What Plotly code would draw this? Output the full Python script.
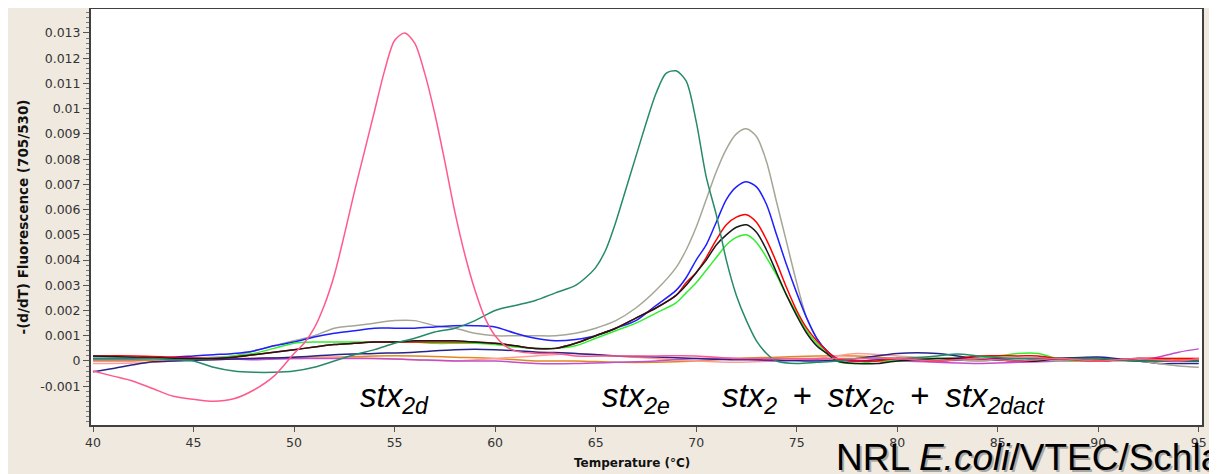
import plotly.graph_objects as go

# ---------------- data ----------------
T_PINK = [40, 41, 42, 43, 44, 45, 46, 47, 48, 49, 50,
          50.5, 51, 51.5, 52, 52.5, 53, 53.5, 54, 54.5, 55, 55.5, 56, 56.5, 57, 57.5, 58, 58.5, 59, 59.5, 60, 60.5, 61,
          62, 63, 64,
          66, 68, 70, 72, 74, 76, 78, 80, 82, 84, 86, 88, 90, 92, 94, 95]
PINK = [-0.0004, -0.0006, -0.0008, -0.0011, -0.0014, -0.00152, -0.0016, -0.0015, -0.00115, -0.0006, 0.0003,
        0.0007, 0.0013, 0.0022, 0.0034, 0.0050, 0.0067, 0.0083, 0.0099, 0.0115, 0.0127, 0.0130, 0.0126, 0.0114, 0.0098, 0.0079, 0.0059, 0.0042, 0.0028, 0.0017, 0.0010, 0.0006, 0.0004,
        0.0003, 0.0003, 0.0002,
        0.0002, 0.0002, 0.0002, 0.0001, 0.0001, 0.0001, 0.0001, 0.0001, 0.0, 0.0001, 0.0, 0.0001, 0.0, 0.0001, 0.0, 0.0001]

T_TEAL = [40, 41, 42, 43, 44, 45, 46, 47, 48, 49, 50, 51, 52, 53, 54, 55, 56, 57, 58, 59, 60, 61, 62, 63, 64, 64.5, 65,
          65.5, 66, 66.5, 67, 67.5, 68, 68.5, 69, 69.5, 70, 70.5, 71, 71.5, 72, 72.5, 73, 73.5, 74,
          75, 76, 77, 78,
          80, 82, 83, 84, 86, 88, 90, 92, 94, 95]
TEAL = [0.0001, 0.0001, 0.0001, 0.0001, 0.00005, 0.0, -0.00025, -0.0004, -0.00045, -0.00045, -0.0004, -0.00025, 0.0, 0.00025, 0.00045, 0.0007, 0.0009, 0.00115, 0.0013, 0.0016, 0.0020, 0.0022, 0.0024, 0.0027, 0.0030, 0.0033, 0.0037,
        0.0044, 0.0055, 0.0068, 0.0081, 0.0094, 0.0106, 0.0114, 0.0115, 0.0111, 0.0095, 0.0073, 0.0058, 0.0040, 0.0026, 0.0016, 0.0008, 0.0003, 0.0,
        -0.0001, -0.00005, 0.0, 0.0001,
        0.0001, 0.0002, 0.00028, 0.0002, 0.0001, 0.0001, 0.0001, 0.0, 0.0, 0.0]

T_GREY = [40, 42, 44, 46,
          47, 48, 49, 50, 51, 52, 53, 54, 55, 56, 57, 58, 59, 60, 61, 62, 63, 64, 65, 66, 67, 68, 69,
          69.5, 70, 70.5, 71, 71.5, 72, 72.5, 73, 73.5, 74, 74.5, 75, 75.5, 76, 76.5, 77,
          78, 80, 82, 84, 86, 88, 90, 92, 93, 94, 95]
GREY = [0.0001, 0.0001, 0.0001, 0.00015,
        0.0002, 0.0004, 0.0006, 0.0008, 0.0010, 0.0013, 0.0014, 0.0015, 0.0016, 0.0016, 0.0014, 0.0013, 0.0011, 0.0010, 0.0010, 0.0010, 0.0010, 0.0011, 0.0013, 0.0016, 0.0021, 0.0028, 0.0037,
        0.0044, 0.0053, 0.0064, 0.0075, 0.0084, 0.0090, 0.0092, 0.0089, 0.0079, 0.0063, 0.0047, 0.0031, 0.0017, 0.0009, 0.0004, 0.0001,
        0.0, 0.0001, 0.0001, 0.0, 0.0001, 0.0, 0.0, 0.0, -0.0001, -0.0002, -0.00025]

T_BLUE = [40, 42, 44, 45, 46,
          47, 48, 49, 50, 51, 52, 53, 54, 55, 56, 57, 58, 59, 60, 61, 62, 63, 64, 65, 66, 67, 68, 69,
          69.5, 70, 70.5, 71, 71.5, 72, 72.5, 73, 73.5, 74, 74.5, 75, 75.5, 76, 76.5, 77,
          78, 80, 82, 84, 86, 88, 90, 92, 94, 95]
BLUE = [0.0001, 0.0001, 0.00015, 0.0002, 0.00025,
        0.0003, 0.0004, 0.0006, 0.00075, 0.00095, 0.0011, 0.0012, 0.0013, 0.0013, 0.0013, 0.00135, 0.0014, 0.0014, 0.00135, 0.0011, 0.0009, 0.0008, 0.00085, 0.0010, 0.0013, 0.0016, 0.0022, 0.0028,
        0.0033, 0.0040, 0.0046, 0.0055, 0.0064, 0.0069, 0.0071, 0.0069, 0.0062, 0.0050, 0.0038, 0.0027, 0.0017, 0.0009, 0.0004, 0.0001,
        0.0, 0.0001, 0.0, 0.0001, 0.0, 0.0001, 0.0, 0.0001, 0.0, 0.0]

T_RBG = [40, 42, 44, 46,
         47, 48, 49, 50, 51, 52, 53, 54, 55, 56, 57, 58, 59, 60, 61, 62, 63, 64, 65, 66, 67, 68, 69,
         69.5, 70, 70.5, 71, 71.5, 72, 72.5, 73, 73.5, 74, 74.5, 75, 75.5, 76, 76.5, 77,
         78, 79, 80, 82, 84, 86, 87, 88, 90, 92, 94, 95]
RED = [0.0002, 0.0002, 0.00015, 0.0001,
       0.00015, 0.00025, 0.00035, 0.00045, 0.00055, 0.00065, 0.0007, 0.00075, 0.00075, 0.00075, 0.00075, 0.00075, 0.00075, 0.0007, 0.0006, 0.0005, 0.0005, 0.0007, 0.0010, 0.0013, 0.0017, 0.0021, 0.0026,
       0.0031, 0.0035, 0.0041, 0.0048, 0.0054, 0.0057, 0.0058, 0.0055, 0.0048, 0.0039, 0.0029, 0.0020, 0.0013, 0.0008, 0.0004, 0.0001,
       0.0, 0.0, 0.0001, 0.0, 0.0002, 0.0002, 0.0002, 0.0001, 0.0, 0.0001, 0.0001, 0.0001]
BLACK = [0.0002, 0.00015, 0.0001, 0.0001,
         0.00015, 0.00025, 0.00035, 0.00045, 0.00055, 0.00065, 0.0007, 0.00075, 0.00075, 0.0008, 0.0008, 0.0008, 0.00075, 0.0007, 0.0006, 0.0005, 0.0005, 0.0007, 0.0010, 0.0013, 0.0017, 0.0021, 0.0026,
         0.0030, 0.0035, 0.0040, 0.0046, 0.0050, 0.0053, 0.0054, 0.0051, 0.0044, 0.0035, 0.0026, 0.0018, 0.0011, 0.0006, 0.0003, 0.0,
         -0.0001, -0.0001, 0.0, 0.0001, 0.0001, 0.0, 0.0, 0.0001, 0.0001, 0.0, 0.0, 0.0]
GREEN = [0.0001, 0.0001, 0.0001, 0.0001,
         0.0002, 0.0003, 0.0005, 0.0007, 0.00075, 0.00075, 0.00075, 0.00075, 0.00075, 0.00075, 0.0007, 0.0007, 0.0007, 0.00065, 0.00055, 0.0005, 0.0005, 0.0006, 0.0009, 0.0012, 0.0015, 0.0019, 0.0023,
         0.0027, 0.0031, 0.0036, 0.0041, 0.0046, 0.0049, 0.0050, 0.0047, 0.0041, 0.0034, 0.0026, 0.0019, 0.0012, 0.0007, 0.0003, 0.0,
         -0.0001, 0.0, 0.0, 0.0001, 0.0001, 0.0003, 0.0003, 0.0001, 0.0, 0.0001, 0.0, 0.0]

T_NAVY = [40, 41, 42, 43, 44, 46, 48, 50, 52, 54, 56, 58, 60, 62, 64, 66, 68, 70, 72, 74, 76, 78,
          80, 82, 84, 86, 88, 90, 92, 93, 94, 95]
NAVY = [-0.00043, -0.0003, -0.00015, -0.00003, 0.0, 0.00005, 0.0001, 0.00015, 0.00025, 0.0003, 0.00035, 0.00045, 0.00045, 0.00036, 0.0003, 0.0002, 0.00016, 0.0001, 0.00005, 0.00004, 0.0, 0.0001,
        0.0003, 0.0003, 0.0001, 0.0001, 0.0001, 0.00016, 0.0, -0.0001, -0.0001, -0.0001]

T_BASE = [40, 42, 44, 46, 48, 50, 52, 54, 56, 58, 60, 62, 64, 66, 68, 70, 72, 74, 76, 78, 80, 82, 84, 86, 88, 90, 92, 94, 95]
ORANGE = [0.0, 0.0, 0.00005, 0.0001, 0.0001, 0.00015, 0.00015, 0.0002, 0.0002, 0.00015, 0.0001, 0.0, 0.0, -0.00005, -0.00005,
          0.0, 0.0001, 0.00015, 0.0002, 0.0002, 0.0001, 0.0, 0.00005, 0.0, 0.0001, 0.00005, 0.0, 0.00005, 0.00005]
SALMON = [-0.0001, -0.00008, 0.0, 0.00005, 0.0001, 0.0001, 0.00015, 0.0001, 0.00005, 0.0, 0.0001, 0.0002, 0.0003, 0.0002, 0.0001,
          0.0, -0.00005, 0.0, 0.0001, 0.0003, 0.0002, 0.0001, 0.0, 0.0001, 0.0001, 0.0, 0.0001, 0.0001, 0.0001]
ORCHID = [0.00005, 0.00005, 0.0001, 0.0001, 0.00005, 0.0001, 0.0001, 0.0001, 0.00005, 0.0, 0.0, -0.0001, -0.0001, -0.00005, 0.0,
          0.0001, 0.0001, 0.0, 0.00005, 0.0, 0.0, -0.00005, -0.0001, -0.00005, 0.0, 0.0001, 0.0, 0.00035, 0.00048]

X_TICKS = [40, 45, 50, 55, 60, 65, 70, 75, 80, 85, 90, 95]
Y_TICKS = [-0.001, 0, 0.001, 0.002, 0.003, 0.004, 0.005, 0.006, 0.007, 0.008, 0.009, 0.01, 0.011, 0.012, 0.013]
Y_TICK_LABELS = ["-0.001", "0", "0.001", "0.002", "0.003", "0.004", "0.005", "0.006", "0.007",
                 "0.008", "0.009", "0.01", "0.011", "0.012", "0.013"]

X_TITLE = "Temperature (°C)"
Y_TITLE = "-(d/dT) Fluorescence (705/530)"

# series: (name, temps, values, colour)
SERIES = [
    ("baseline orange", T_BASE, ORANGE, "#E08A1E"),
    ("baseline salmon", T_BASE, SALMON, "#FF9C9C"),
    ("baseline orchid", T_BASE, ORCHID, "#C050C8"),
    ("baseline navy", T_NAVY, NAVY, "#24248C"),
    ("stx2 grey", T_GREY, GREY, "#A6A696"),
    ("stx2 blue", T_BLUE, BLUE, "#1E1EFF"),
    ("stx2 green", T_RBG, GREEN, "#2EF02E"),
    ("stx2 red", T_RBG, RED, "#FF0000"),
    ("stx2 black", T_RBG, BLACK, "#1A1A1A"),
    ("stx2e", T_TEAL, TEAL, "#268A68"),
    ("stx2d", T_PINK, PINK, "#FF5A8C"),
]

fig = go.Figure()
for name, tx, vy, col in SERIES:
    fig.add_trace(go.Scatter(x=tx, y=vy, mode="lines", name=name,
                             line=dict(color=col, width=1.5, shape="spline", smoothing=0.8),
                             hoverinfo="skip"))

axis_font = dict(family="DejaVu Sans", size=12.5, color="#333333")

# the page body adds an 8 px offset, so the figure is 8 px smaller than the window
fig.update_layout(
    width=1209, height=466,
    margin=dict(l=83, r=15, t=1, b=49, autoexpand=False),
    paper_bgcolor="#EFE9E0",
    plot_bgcolor="#FFFFFF",
    showlegend=False,
    xaxis=dict(range=[39.9, 95.16], tickvals=X_TICKS, ticks="outside", ticklen=5,
               tickcolor="#555555", tickwidth=1, tickfont=axis_font,
               showgrid=False, zeroline=False, showline=True, linecolor="#404040",
               linewidth=2, mirror=True),
    yaxis=dict(range=[-0.002537, 0.013951], tickvals=Y_TICKS, ticktext=Y_TICK_LABELS,
               ticks="outside", ticklen=6, tickcolor="#555555", tickwidth=1, tickfont=axis_font,
               minor=dict(dtick=0.0002, ticks="outside", ticklen=3, tickcolor="#777777", showgrid=False),
               showgrid=False, zeroline=False, showline=True, linecolor="#404040",
               linewidth=2, mirror=True,
               title=dict(text="<b>" + Y_TITLE + "</b>",
                          font=dict(family="DejaVu Sans", size=13.5, color="#111111"), standoff=8)),
)

# x-axis title (placed slightly left of centre, as in the picture)
fig.add_annotation(x=0.487, y=-0.0913, xref="paper", yref="paper", text="<b>" + X_TITLE + "</b>",
                   showarrow=False, font=dict(family="DejaVu Sans", size=12, color="#111111"),
                   xanchor="center", yanchor="middle")

label_font = dict(family="Liberation Sans", size=33, color="#000000")
TS = "\u2009"
LABELS = [
    (55.0, "<i>stx<sub>2d</sub></i>"),
    (67.0, "<i>stx<sub>2e</sub></i>"),
    (79.3, "<i>stx<sub>2</sub></i>" + TS + " + " + TS + "<i>stx<sub>2c</sub></i>" + TS + " + " + TS + "<i>stx<sub>2dact</sub></i>"),
]
for lx, txt in LABELS:
    fig.add_annotation(x=lx, y=-0.00147, xref="x", yref="y", text=txt, showarrow=False,
                       font=label_font, xanchor="center", yanchor="middle")

credit = "NRL <i>E.coli</i>/VTEC/Schla"
fig.add_annotation(x=0.669, y=-0.079, xref="paper", yref="paper", text=credit, showarrow=False,
                   font=dict(family="Liberation Sans", size=37, color="rgba(0,0,0,0.28)"),
                   xanchor="left", yanchor="middle", xshift=2, yshift=-2)
fig.add_annotation(x=0.669, y=-0.079, xref="paper", yref="paper", text=credit, showarrow=False,
                   font=dict(family="Liberation Sans", size=37, color="#000000"),
                   xanchor="left", yanchor="middle")

fig.write_html("out.html")
